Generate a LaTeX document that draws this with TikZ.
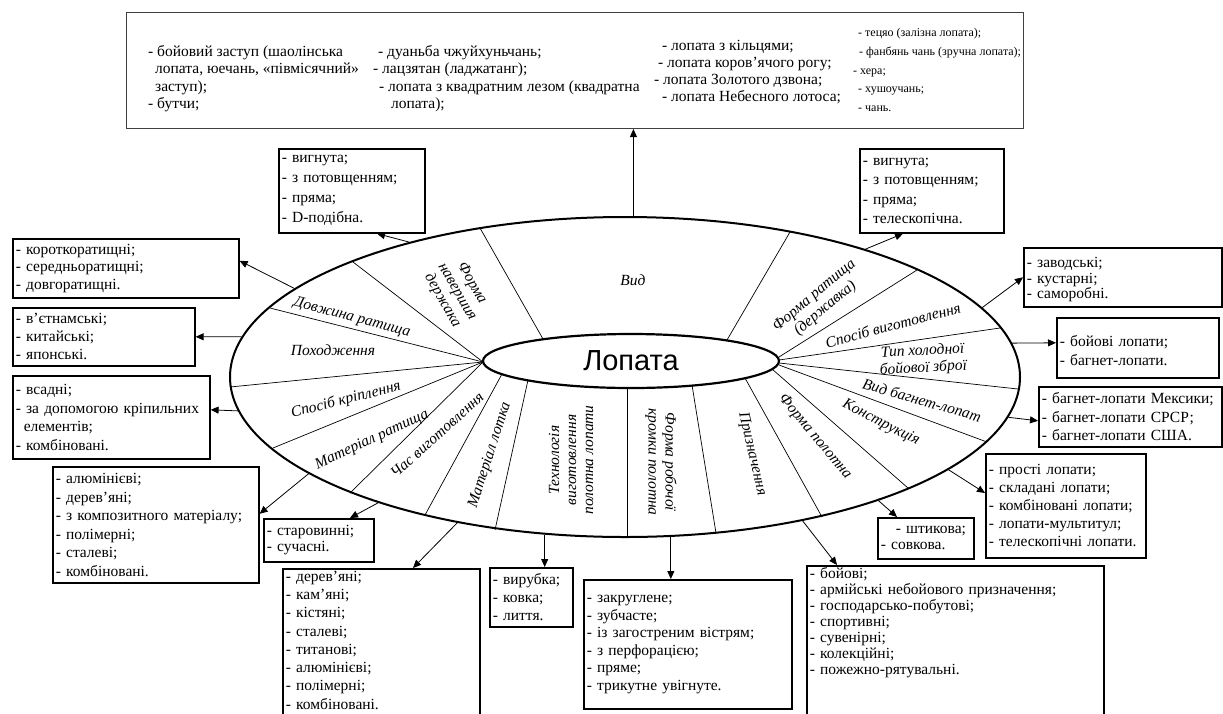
\documentclass[tikz,border=0pt]{standalone}
\usepackage{fontspec}
\setmainfont{Liberation Serif}
\newfontfamily\lsans{Liberation Sans}
\usetikzlibrary{arrows.meta,shapes.geometric}
\newcommand{\bfs}[1]{\fontsize{15.5}{#1}\selectfont}
\newcommand{\tfs}[2]{\fontsize{#1}{#2}\selectfont}
\tikzset{
  box/.style={draw, line width=1.6pt, rectangle, anchor=north west, align=left, inner xsep=3pt, inner ysep=2pt},
  tcol/.style={anchor=north west, align=left, inner sep=0pt},
  arr/.style={-{Triangle[length=8pt,width=7pt]}, line width=0.8pt},
  sep/.style={line width=0.7pt},
  lab/.style={font=\fontsize{15.5}{17}\selectfont\itshape, align=center, inner sep=0pt},
}
\begin{document}
\begin{tikzpicture}[x=1pt,y=-1pt]
\useasboundingbox (0,0) rectangle (1223,713);
% big ellipse
\node[draw, line width=2pt, ellipse, minimum width=790pt, minimum height=320pt, inner sep=0pt] (big) at (625,377) {};
% separators
\draw[sep] (543,339) -- (480,228);
\draw[sep] (727,340) -- (790,232);
\draw[sep] (779,357) -- (917,270);
\draw[sep] (779,360) -- (1000,328);
\draw[sep] (779,363) -- (1018,389);
\draw[sep] (779,365) -- (987,442);
\draw[sep] (772,369) -- (908,488);
\draw[sep] (745,378) -- (822,517);
\draw[sep] (692,385) -- (716,533);
\draw[sep] (627,388) -- (627,538);
\draw[sep] (528,380) -- (495,530);
\draw[sep] (502,374) -- (425,515);
\draw[sep] (483,362) -- (350,493);
\draw[sep] (483,362) -- (273,448);
\draw[sep] (483,362) -- (230,387);
\draw[sep] (483,362) -- (270,308);
\draw[sep] (483,362) -- (353,262);
% centre
\node[draw, line width=2.2pt, ellipse, minimum width=296pt, minimum height=54pt, inner sep=0pt, fill=white, font=\lsans\fontsize{29}{30}\selectfont] (lop) at (631,361) {Лопата};
% sector labels
\node[lab] (s1) at (633,280) {Вид};
\node[lab, rotate=-60] (s2) at (457,292) {Форма\\навершия\\держака};
\node[lab, rotate=-15] (s3) at (352,318) {Довжина ратища};
\node[lab] (s4) at (333,350) {Походження};
\node[lab, rotate=14] (s5) at (346,400) {Спосіб кріплення};
\node[lab, rotate=25] (s6) at (372,440) {Матеріал ратища};
\node[lab, rotate=42] (s7) at (437,435) {Час виготовлення};
\node[lab, rotate=72] (s8) at (490,455) {Матеріал лотка};
\node[lab, rotate=90] (s9) at (571,460) {Технологія\\виготовлення\\полотна лопати};
\node[lab, rotate=-90] (s10) at (661,462) {Форма робочої\\кромки полотна};
\node[lab, rotate=-77] (s11) at (752,454) {Призначення};
\node[lab, rotate=-50] (s12) at (815,437) {Форма полотна};
\node[lab, rotate=-27] (s13) at (881,423) {Конструкція};
\node[lab, rotate=-16] (s14) at (922,400) {Вид багнет-лопат};
\node[lab, rotate=3] (s15) at (923,360) {Тип холодної\\бойової зброї};
\node[lab, rotate=15] (s16) at (893,325) {Спосіб виготовлення};
\node[lab, rotate=40] (s17) at (820,302) {Форма ратища\\(державка)};
% top box
\node[draw=black!75, line width=1pt, anchor=north west, minimum width=897pt, minimum height=116pt, inner sep=0pt] (top) at (126,12) {};
\node[tcol, font=\tfs{15.5}{17.5}] (c1) at (148,45) {- бойовий заступ (шаолінська\\\hspace*{7pt}лопата, юечань, «півмісячний»\\\hspace*{7pt}заступ);\\- бутчи;};
\node[tcol, font=\tfs{15.5}{17.5}] (c2) at (373,45) {\hspace*{5pt}- дуаньба чжуйхуньчань;\\- лацзятан (ладжатанг);\\\hspace*{6pt}- лопата з квадратним лезом (квадратна\\\hspace*{18pt}лопата);};
\node[tcol, font=\tfs{15.5}{17}] (c3) at (654,40) {\hspace*{8pt}- лопата з кільцями;\\\hspace*{4pt}- лопата коров’ячого рогу;\\- лопата Золотого дзвона;\\\hspace*{8pt}- лопата Небесного лотоса;};
\node[tcol, font=\tfs{12}{18.75}] (c4) at (853,28) {\hspace*{5pt}- тецяо (залізна лопата);\\\hspace*{6pt}- фанбянь чань (зручна лопата);\\- хера;\\\hspace*{5pt}- хушоучань;\\\hspace*{5pt}- чань.};
% boxes
\node[box, font=\bfs{20}, text width=140pt, minimum height=84pt] (fid) at (278,148) {- вигнута;\\- з потовщенням;\\- пряма;\\- D-подібна.};
\node[box, font=\bfs{19.5}, text width=138pt, minimum height=84pt] (fr) at (859,148) {- вигнута;\\- з потовщенням;\\- пряма;\\- телескопічна.};
\node[box, font=\bfs{17.5}, text width=220pt, minimum height=59pt] (kor) at (12,238) {- короткоратищні;\\- середньоратищні;\\- довгоратищні.};
\node[box, font=\bfs{18}, text width=176pt, minimum height=58pt] (viet) at (12,307) {- в’єтнамські;\\- китайські;\\- японські.};
\node[box, font=\bfs{18.5}, text width=191pt, minimum height=83pt] (vsad) at (12,375) {- всадні;\\- за допомогою кріпильних\\\hspace*{8pt}елементів;\\- комбіновані.};
\node[box, font=\bfs{18.5}, text width=200pt, minimum height=116pt] (alum) at (52,466) {- алюмінієві;\\- дерев’яні;\\- з композитного матеріалу;\\- полімерні;\\- сталеві;\\- комбіновані.};
\node[box, font=\bfs{16}, text width=104pt, minimum height=43pt] (star) at (263,518) {- старовинні;\\- сучасні.};
\node[box, font=\bfs{18.3}, text width=191pt] (derev) at (282,568) {- дерев’яні;\\- кам’яні;\\- кістяні;\\- сталеві;\\- титанові;\\- алюмінієві;\\- полімерні;\\- комбіновані.\\\rule{0pt}{30pt}};
\node[box, font=\bfs{18}, text width=77pt, minimum height=59pt] (virub) at (489,567) {- вирубка;\\- ковка;\\- лиття.};
\node[box, font=\bfs{17.5}, text width=202pt, minimum height=129pt] (zakr) at (583,579) {- закруглене;\\- зубчасте;\\- із загостреним вістрям;\\- з перфорацією;\\- пряме;\\- трикутне увігнуте.};
\node[box, font=\bfs{16}, text width=291pt] (boiovi) at (806,565) {- бойові;\\- армійські небойового призначення;\\- господарсько-побутові;\\- спортивні;\\- сувенірні;\\- колекційні;\\- пожежно-рятувальні.\\\rule{0pt}{40pt}};
\node[box, font=\bfs{16}, text width=90pt, minimum height=41pt] (shtyk) at (877,517) {\hspace*{15pt}- штикова;\\- совкова.};
\node[box, font=\bfs{18}, text width=154pt, minimum height=104pt] (prosti) at (985,453) {- прості лопати;\\- складані лопати;\\- комбіновані лопати;\\- лопати-мультитул;\\- телескопічні лопати.};
\node[box, font=\bfs{18.5}, text width=177pt, minimum height=60pt] (mex) at (1038,386) {- багнет-лопати Мексики;\\- багнет-лопати СРСР;\\- багнет-лопати США.};
\node[box, font=\bfs{19}, text width=156pt, minimum height=60pt] (bl) at (1056,317) {\rule{0pt}{16pt}- бойові лопати;\\- багнет-лопати.};
\node[box, font=\bfs{15.5}, text width=192pt, minimum height=59pt] (zavod) at (1023,247) {\rule{0pt}{15pt}- заводські;\\- кустарні;\\- саморобні.};
% arrows
\draw[arr] (big.87) -- (big.87 |- top.south);
\draw[arr] (big.148) -- ([xshift=99pt]fid.south west);
\draw[arr] (big.165) -- ([yshift=7.5pt]kor.east);
\draw[arr] (big.174) -- (viet.east);
\draw[arr] (big.185) -- ([yshift=7.5pt]vsad.east);
\draw[arr] (big.197) -- ([yshift=11pt]alum.east);
\draw[arr] (big.207) -- ([xshift=87pt]star.north west);
\draw[arr] (big.221) -- ([xshift=131pt]derev.north west);
\draw[arr] (big.243) -- (big.243 |- virub.north);
\draw[arr] (big.286) -- (big.286 |- zakr.north);
\draw[arr] (big.321) -- ([xshift=31pt]boiovi.north west);
\draw[arr] (big.334) -- ([xshift=20pt]shtyk.north west);
\draw[arr] (big.344) -- ([yshift=-40pt]prosti.north west);
\draw[arr] (big.354) -- ([yshift=-4pt]mex.west);
\draw[arr] (big.5) -- ([yshift=5pt]bl.west);
\draw[arr] (big.11) -- (zavod.west);
\draw[arr] (big.28) -- ([xshift=44pt]fr.south west);
\end{tikzpicture}
\end{document}
